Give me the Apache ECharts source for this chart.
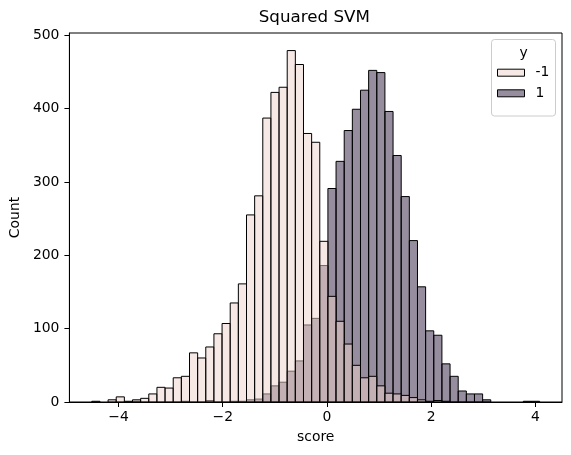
<!DOCTYPE html>
<html>
<head>
<meta charset="utf-8">
<script src="https://cdn.jsdelivr.net/npm/echarts@6/dist/echarts.min.js"></script>
<style>
html,body{margin:0;padding:0;background:#fff;}
#chart{width:571px;height:455px;}
</style>
</head>
<body>
<div id="chart"></div>
<script>
// Histogram bins (common to both classes)
const binStart = -4.512;
const binWidth = 0.1562;
// Counts per bin for y = -1
const countsNeg = [1,0,3,7,1,3,5,11,20,19,33,35,67,60,75,93,107,135,161,255,281,387,422,429,479,460,366,354,219,144,110,79,50,33,35,22,12,11,9,6,3,1,2,1,0,0,0,0,0,0,0,0,0,0,0];
// Counts per bin for y = 1
const countsPos = [0,0,0,0,0,1,0,0,0,0,0,1,0,0,2,0,0,1,1,3,4,11,22,27,42,56,105,114,186,291,328,370,399,425,452,449,396,336,280,220,157,97,91,52,35,15,11,11,3,0,0,0,0,1,1];
const xTicks = [-4,-2,0,2,4];
const yTicks = [0,100,200,300,400,500];
const labels = ['-1','1'];
const titleText = 'Squared SVM';
const xName = 'score';
const yName = 'Count';
const legendTitle = 'y';

const nBins = countsNeg.length;
const dataRange = nBins * binWidth;
const xMin = binStart - 0.05 * dataRange;
const xMax = binStart + dataRange + 0.05 * dataRange;
const yMax = Math.max(...countsNeg, ...countsPos) * 1.05;

const colNeg = 'rgba(237,209,203,0.5)';
const colPos = 'rgba(45,30,62,0.5)';
const font = 'DejaVu Sans';

function toData(counts){
  const out = [];
  counts.forEach((c,i)=>{ if(c>0) out.push([binStart+i*binWidth, binStart+(i+1)*binWidth, c]); });
  return out;
}
function renderItem(params, api){
  const p0 = api.coord([api.value(0), api.value(2)]);
  const p1 = api.coord([api.value(1), 0]);
  return {
    type:'rect',
    shape:{x:p0[0], y:p0[1], width:p1[0]-p0[0], height:p1[1]-p0[1]},
    style: api.style()
  };
}
const fmt = v => v < 0 ? '\u2212' + Math.abs(v) : String(v);

const chart = echarts.init(document.getElementById('chart'), null, {renderer:'canvas'});
chart.setOption({
  animation:false,
  backgroundColor:'#fff',
  textStyle:{fontFamily:font},
  grid:{left:66, right:9, top:33, bottom:53, show:true, borderColor:'#000', borderWidth:1, backgroundColor:'transparent'},
  xAxis:{
    type:'value', min:xMin, max:xMax,
    axisLine:{show:true, onZero:false, lineStyle:{color:'#000', width:1}},
    axisTick:{show:true, length:5, lineStyle:{color:'#000', width:1}, customValues:xTicks},
    axisLabel:{color:'#000', fontSize:13.9, fontFamily:font, margin:8, customValues:xTicks, formatter:fmt},
    splitLine:{show:false},
    name:xName, nameLocation:'middle', nameGap:28,
    nameTextStyle:{color:'#000', fontSize:13.9, fontFamily:font}
  },
  yAxis:{
    type:'value', min:0, max:yMax,
    axisLine:{show:true, onZero:false, lineStyle:{color:'#000', width:1}},
    axisTick:{show:true, length:5, lineStyle:{color:'#000', width:1}, customValues:yTicks},
    axisLabel:{color:'#000', fontSize:13.9, fontFamily:font, margin:10, customValues:yTicks},
    splitLine:{show:false},
    name:yName, nameLocation:'middle', nameGap:42,
    nameTextStyle:{color:'#000', fontSize:13.9, fontFamily:font}
  },
  legend:{
    orient:'vertical', left:497, top:65.7, padding:0, itemGap:6.6,
    itemWidth:27, itemHeight:7, icon:'rect', selectedMode:false,
    textStyle:{color:'#000', fontSize:13.9, fontFamily:font, lineHeight:14, padding:[0,0,0,6]},
    data:[
      {name:labels[0], itemStyle:{color:colNeg, borderColor:'#000', borderWidth:1}},
      {name:labels[1], itemStyle:{color:colPos, borderColor:'#000', borderWidth:1}}
    ],
    z:10
  },
  graphic:[
    {type:'rect', z:5, shape:{x:491.5, y:39.5, width:64, height:76.5, r:3},
     style:{fill:'rgba(255,255,255,0.8)', stroke:'#cccccc', lineWidth:1}},
    {type:'text', z:6, x:523.5, y:53, style:{text:legendTitle, fill:'#000', font:'13.9px "DejaVu Sans"', textAlign:'center', textVerticalAlign:'middle'}},
    {type:'text', z:6, x:314.3, y:18, style:{text:titleText, fill:'#000', font:'16.7px "DejaVu Sans"', textAlign:'center', textVerticalAlign:'middle'}}
  ],
  series:[
    {name:labels[1], type:'custom', renderItem:renderItem, data:toData(countsPos),
     encode:{x:[0,1], y:2}, itemStyle:{color:colPos, borderColor:'#000', borderWidth:1}},
    {name:labels[0], type:'custom', renderItem:renderItem, data:toData(countsNeg),
     encode:{x:[0,1], y:2}, itemStyle:{color:colNeg, borderColor:'#000', borderWidth:1}}
  ]
});
</script>
</body>
</html>
